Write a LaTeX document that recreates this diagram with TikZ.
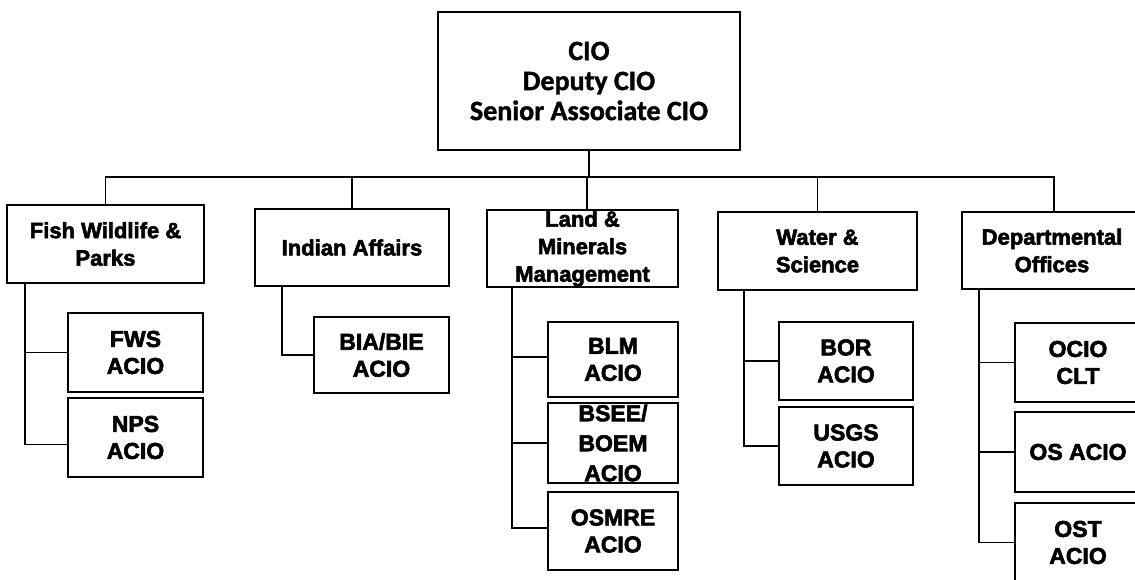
\documentclass[tikz,border=0pt]{standalone}
\usepackage{fontspec}
\setmainfont{Liberation Sans}[BoldFeatures={FakeBold=2.6}]
\newfontfamily\calibri{Carlito}[BoldFeatures={FakeBold=1.4}]
\begin{document}
\begin{tikzpicture}[x=1pt,y=-1pt,
  box/.style={draw=black, line width=2.3pt, fill=white, align=center, inner sep=0pt,
              font=\fontsize{22}{27.5}\selectfont\bfseries},
  acio/.style={box, font=\fontsize{23}{27}\selectfont\bfseries},
  link/.style={draw=black, line width=1.5pt, line join=miter}]
\useasboundingbox (0,0) rectangle (1135,579);
\clip (0,0) rectangle (1135,579);

% top office
\node[box, minimum width=302pt, minimum height=138pt,
      font=\calibri\fontsize{28}{30}\selectfont\bfseries] (cio) at (589,81)
      {CIO\\Deputy CIO\\Senior Associate CIO};

% bureaus
\node[box, minimum width=197pt, minimum height=78pt] (fish) at (105.5,244) {Fish Wildlife \&\\Parks};
\node[box, minimum width=194pt, minimum height=77pt] (ind) at (352,247.5) {Indian Affairs};
\node[box, minimum width=191pt, minimum height=77pt] (lmm) at (582.5,248.5) {Land \&\\Minerals\\Management};
\node[box, minimum width=199pt, minimum height=78pt] (ws) at (817.5,251) {Water \&\\Science};
\node[box, minimum width=180pt, minimum height=77pt] (dept) at (1052,250.5) {Departmental\\Offices};

% ACIO offices
\node[acio, minimum width=135pt, minimum height=79pt] (fws) at (135.5,352.5) {FWS\\ACIO};
\node[acio, minimum width=135pt, minimum height=79pt] (nps) at (135.5,437.5) {NPS\\ACIO};
\node[acio, minimum width=135pt, minimum height=76pt] (bia) at (381.5,355) {BIA/BIE\\ACIO};
\node[acio, minimum width=130pt, minimum height=75pt] (blm) at (613,359.5) {BLM\\ACIO};
\node[acio, minimum width=130pt, minimum height=80pt,
      font=\fontsize{23}{30}\selectfont\bfseries] (bsee) at (613,443) {BSEE/\\BOEM\\ACIO};
\node[acio, minimum width=130pt, minimum height=78pt] (osmre) at (613,531) {OSMRE\\ACIO};
\node[acio, minimum width=134pt, minimum height=78pt] (bor) at (846,361) {BOR\\ACIO};
\node[acio, minimum width=134pt, minimum height=78pt] (usgs) at (846,446) {USGS\\ACIO};
\node[acio, minimum width=126pt, minimum height=79pt] (ocio) at (1078,362.5) {OCIO\\CLT};
\node[acio, minimum width=126pt, minimum height=80pt] (os) at (1078,452) {OS ACIO};
\node[acio, minimum width=126pt, minimum height=79pt] (ost) at (1078,542.5) {OST\\ACIO};

% bus from the top office to the bureaus
\coordinate (bus) at (0,177);
\draw[link] (cio.south) -- (cio.south |- bus);
\draw[link] (fish.north) -- (fish.north |- bus) -- ([xshift=2pt]dept.north |- bus) -- ([xshift=2pt]dept.north);
\draw[link] (ind.north) -- (ind.north |- bus);
\draw[link] ([xshift=4.5pt]lmm.north) -- ([xshift=4.5pt]lmm.north |- bus);
\draw[link] (ws.north) -- (ws.north |- bus);

% spines from each bureau to its offices
\draw[link] ([xshift=19pt]fish.south west) |- (fws.west);
\draw[link] ([xshift=19pt]fish.south west) |- ([yshift=-7pt]nps.west);
\draw[link] ([xshift=28pt]ind.south west) |- (bia.west);
\draw[link] ([xshift=26pt]lmm.south west) |- ([yshift=2.5pt]blm.west);
\draw[link] ([xshift=26pt]lmm.south west) |- (bsee.west);
\draw[link] ([xshift=26pt]lmm.south west) |- ([yshift=3pt]osmre.west);
\draw[link] ([xshift=27pt]ws.south west) |- (bor.west);
\draw[link] ([xshift=27pt]ws.south west) |- (usgs.west);
\draw[link] ([xshift=18pt]dept.south west) |- (ocio.west);
\draw[link] ([xshift=18pt]dept.south west) |- (os.west);
\draw[link] ([xshift=18pt]dept.south west) |- (ost.west);
\end{tikzpicture}
\end{document}
